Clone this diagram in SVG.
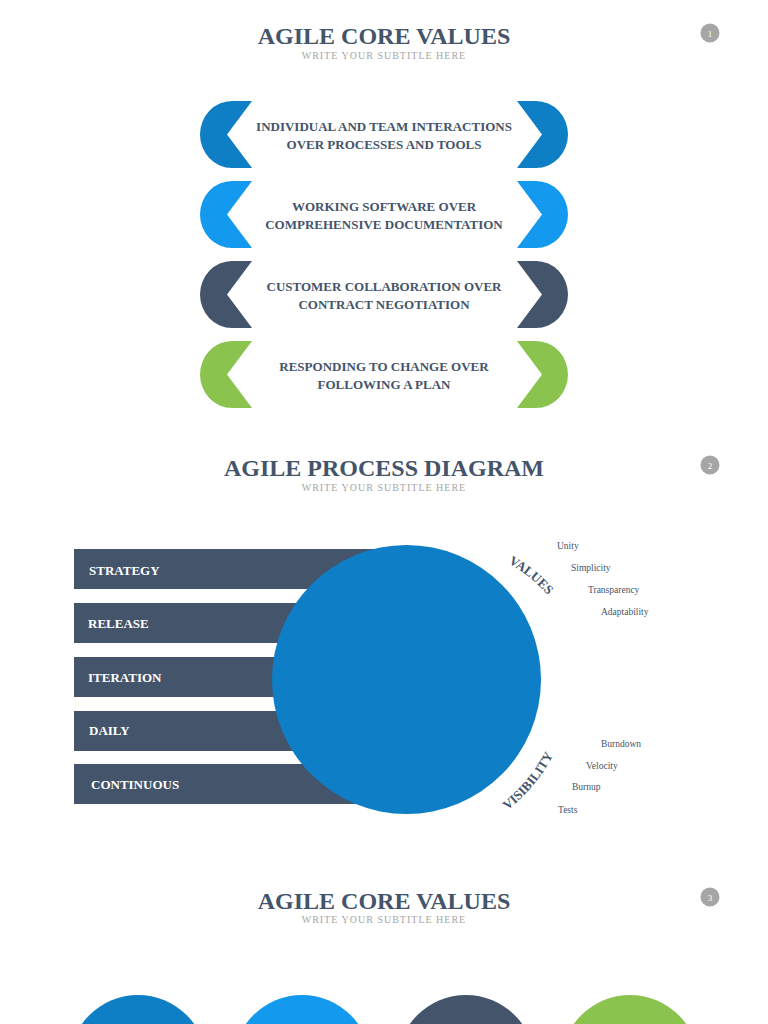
<svg xmlns="http://www.w3.org/2000/svg" width="768" height="1024" viewBox="0 0 768 1024">
<style>
.title{font-family:"Liberation Serif",serif;font-weight:bold;font-size:24px;fill:#44546A;text-anchor:middle}
.sub{font-family:"Liberation Serif",serif;font-size:10px;fill:#A6A6A6;text-anchor:middle;letter-spacing:1px}
.pg{fill:#A6A6A6}
.pgt{font-family:"Liberation Serif",serif;font-size:9px;fill:#FFFFFF;text-anchor:middle}
.ct{font-family:"Liberation Serif",serif;font-weight:bold;font-size:13px;fill:#44546A;text-anchor:middle}
.bar{fill:#44546A}
.bt{font-family:"Liberation Serif",serif;font-weight:bold;font-size:13px;fill:#FFFFFF}
.arc{font-family:"Liberation Serif",serif;font-weight:bold;font-size:13px;fill:#44546A}
.sm{font-family:"Liberation Serif",serif;font-size:9.5px;fill:#44546A}
</style>
<defs>
<path id="lc" d="M252,0 L232,0 A32,33.5 0 0 0 232,67 L252,67 L227,33.5 Z"/>
<path id="rc" d="M517,0 L536,0 A32,33.5 0 0 1 536,67 L517,67 L542,33.5 Z"/>
<path id="valArc" d="M 508.3,563.1 A 153 153 0 0 1 549.9,597.6"/>
<path id="visArc" d="M 507.3,810.1 A 165 165 0 0 0 559.1,742.1"/>
</defs>
<rect width="768" height="1024" fill="#FFFFFF"/>

<g id="slide1">
<text class="title" x="384" y="44">AGILE CORE VALUES</text>
<text class="sub" x="384" y="59">WRITE YOUR SUBTITLE HERE</text>
<g id="page1"><circle class="pg" cx="710" cy="33" r="9.5"/><text class="pgt" x="710" y="36.5">1</text></g>
<g id="value1">
<use href="#lc" y="101" fill="#0E7EC5"/><use href="#rc" y="101" fill="#0E7EC5"/>
<text class="ct" x="384" y="131">INDIVIDUAL AND TEAM INTERACTIONS</text>
<text class="ct" x="384" y="149">OVER PROCESSES AND TOOLS</text>
</g>
<g id="value2">
<use href="#lc" y="181" fill="#139AEE"/><use href="#rc" y="181" fill="#139AEE"/>
<text class="ct" x="384" y="211">WORKING SOFTWARE OVER</text>
<text class="ct" x="384" y="229">COMPREHENSIVE DOCUMENTATION</text>
</g>
<g id="value3">
<use href="#lc" y="261" fill="#44546A"/><use href="#rc" y="261" fill="#44546A"/>
<text class="ct" x="384" y="291">CUSTOMER COLLABORATION OVER</text>
<text class="ct" x="384" y="309">CONTRACT NEGOTIATION</text>
</g>
<g id="value4">
<use href="#lc" y="341" fill="#8BC34F"/><use href="#rc" y="341" fill="#8BC34F"/>
<text class="ct" x="384" y="371">RESPONDING TO CHANGE OVER</text>
<text class="ct" x="384" y="389">FOLLOWING A PLAN</text>
</g>
</g>

<g id="slide2">
<text class="title" x="384" y="476">AGILE PROCESS DIAGRAM</text>
<text class="sub" x="384" y="491">WRITE YOUR SUBTITLE HERE</text>
<g id="page2"><circle class="pg" cx="710" cy="465" r="9.5"/><text class="pgt" x="710" y="468.5">2</text></g>
<g id="bar-strategy"><rect class="bar" x="74" y="549" width="330" height="40"/><text class="bt" x="89" y="575">STRATEGY</text></g>
<g id="bar-release"><rect class="bar" x="74" y="603" width="330" height="40"/><text class="bt" x="88" y="628">RELEASE</text></g>
<g id="bar-iteration"><rect class="bar" x="74" y="657" width="330" height="40"/><text class="bt" x="88" y="682">ITERATION</text></g>
<g id="bar-daily"><rect class="bar" x="74" y="711" width="330" height="40"/><text class="bt" x="89" y="735">DAILY</text></g>
<g id="bar-continuous"><rect class="bar" x="74" y="764" width="330" height="40"/><text class="bt" x="91" y="789">CONTINUOUS</text></g>
<g id="hub"><circle cx="406.5" cy="679.5" r="134.5" fill="#0E7EC6"/></g>
<g id="values">
<text class="arc"><textPath href="#valArc">VALUES</textPath></text>
<text class="sm" x="557" y="549">Unity</text>
<text class="sm" x="571" y="571">Simplicity</text>
<text class="sm" x="588" y="593">Transparency</text>
<text class="sm" x="601" y="615">Adaptability</text>
</g>
<g id="visibility">
<text class="arc"><textPath href="#visArc">VISIBILITY</textPath></text>
<text class="sm" x="601" y="747">Burndown</text>
<text class="sm" x="586" y="769">Velocity</text>
<text class="sm" x="572" y="790">Burnup</text>
<text class="sm" x="558" y="813">Tests</text>
</g>
</g>

<g id="slide3">
<text class="title" x="384" y="909">AGILE CORE VALUES</text>
<text class="sub" x="384" y="923">WRITE YOUR SUBTITLE HERE</text>
<g id="page3"><circle class="pg" cx="710" cy="897" r="9.5"/><text class="pgt" x="710" y="900.5">3</text></g>
<g id="c1"><circle cx="138" cy="1064" r="69" fill="#0E7EC5"/></g>
<g id="c2"><circle cx="302" cy="1064" r="69" fill="#139AEE"/></g>
<g id="c3"><circle cx="466" cy="1064" r="69" fill="#44546A"/></g>
<g id="c4"><circle cx="630" cy="1064" r="69" fill="#8BC34F"/></g>
</g>
<g id="connectors"></g>
</svg>
